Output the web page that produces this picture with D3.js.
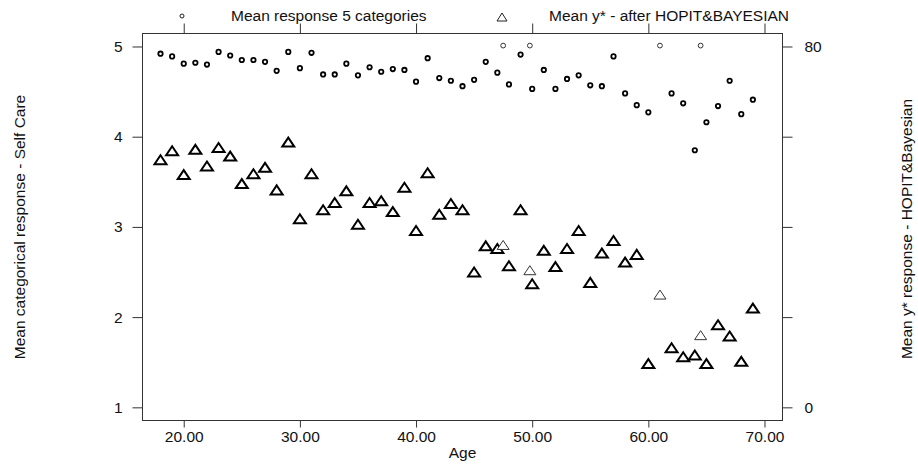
<!DOCTYPE html>
<html><head><meta charset="utf-8">
<script src="https://cdn.jsdelivr.net/npm/d3@7"></script>
<style>
html,body{margin:0;padding:0;background:#fff;}
svg{display:block;font-family:"Liberation Sans",Arial,sans-serif;}
</style></head>
<body>
<svg id="c" width="918" height="466"></svg>
<script>
// Ages (x categories)
const ages = [18,19,20,21,22,23,24,25,26,27,28,29,30,31,32,33,34,35,36,37,38,39,40,41,42,43,44,45,46,47,48,49,50,51,52,53,54,55,56,57,58,59,60,62,63,64,65,66,67,68,69];
// Mean response 5 categories (left axis)
const meanResponse = [4.92,4.89,4.81,4.82,4.80,4.94,4.90,4.85,4.85,4.83,4.73,4.94,4.76,4.93,4.69,4.69,4.81,4.68,4.77,4.72,4.75,4.74,4.61,4.87,4.65,4.62,4.56,4.63,4.83,4.71,4.58,4.91,4.53,4.74,4.53,4.64,4.68,4.57,4.56,4.89,4.48,4.35,4.27,4.48,4.37,3.85,4.16,4.34,4.62,4.25,4.41];
// Mean y* after HOPIT & Bayesian (right axis)
const meanYstar = [54.9,56.9,51.6,57.2,53.5,57.6,55.7,49.6,51.8,53.2,48.2,58.8,41.8,51.8,43.8,45.4,48.0,40.6,45.4,45.8,43.4,48.8,39.2,52.0,42.8,45.2,43.8,30.0,35.8,35.2,31.4,43.8,27.4,34.8,31.2,35.2,39.2,27.7,34.2,37.0,32.2,33.9,9.7,13.2,11.2,11.6,9.7,18.3,15.8,10.2,22.0];
// Secondary (lighter) points
const agesLight = [47.5,49.8,61,64.5];
const meanResponseLight = [5.01,5.01,5.01,5.01];
const meanYstarLight = [36.0,30.4,25.0,16.0];
// Tick labels
const xTicks = [20,30,40,50,60,70];
const yTicks = [1,2,3,4,5];
const y2Ticks = [0,20,40,60,80];
const y2Labeled = [0,80];
const legendLabels = ["Mean response 5 categories","Mean y* - after HOPIT&BAYESIAN"];

const svg = d3.select("#c");
const L=142.5,R=782.5,T=33.5,B=420.5;
const x = d3.scaleLinear().domain([16.45,71.55]).range([L,R]);
const y = d3.scaleLinear().domain([0.854,5.144]).range([B,T]);
const y2 = d3.scaleLinear().domain([-2.92,82.88]).range([B,T]);
const axisCol = "#333";
const fs = "15.5px";

function styleAxis(g){
  g.select(".domain").remove();
  g.selectAll("line").attr("stroke",axisCol);
  g.selectAll("text").attr("fill","#111").style("font-size",fs).attr("font-family",null);
}
svg.append("g").attr("transform",`translate(${L},0)`)
  .call(d3.axisLeft(y).tickValues(yTicks).tickSize(10).tickPadding(10).tickFormat(d3.format("d"))).call(styleAxis);
svg.append("g").attr("transform",`translate(${R},0)`)
  .call(d3.axisRight(y2).tickValues(y2Ticks).tickSize(10).tickPadding(12).tickFormat(d=>y2Labeled.includes(d)?d3.format("d")(d):"")).call(styleAxis);
svg.append("g").attr("transform",`translate(0,${B})`)
  .call(d3.axisBottom(x).tickValues(xTicks).tickSize(7).tickPadding(3).tickFormat(d3.format(".2f"))).call(styleAxis);
svg.append("g").attr("transform",`translate(0,${T})`)
  .call(d3.axisTop(x).tickValues(xTicks).tickSize(10).tickFormat("")).call(styleAxis);

svg.append("rect").attr("x",L).attr("y",T).attr("width",R-L).attr("height",B-T)
  .attr("fill","none").attr("stroke",axisCol).attr("stroke-width",1);

// titles
svg.append("text").attr("x",(L+R)/2).attr("y",458).attr("text-anchor","middle").style("font-size",fs).attr("fill","#111").text("Age");
svg.append("text").attr("transform","translate(25,227) rotate(-90)").attr("text-anchor","middle").style("font-size",fs).attr("fill","#111").text("Mean categorical response - Self Care");
svg.append("text").attr("transform","translate(912,229) rotate(-90)").attr("text-anchor","middle").style("font-size",fs).attr("fill","#111").text("Mean y* response - HOPIT&Bayesian");

const tri = "M0,-4.5L6,4.5L-6,4.5Z";

// markers
const circ = ages.map((a,i)=>({a,v:meanResponse[i]}));
svg.append("g").selectAll("circle").data(circ).join("circle")
  .attr("cx",d=>x(d.a)).attr("cy",d=>y(d.v)).attr("r",2.2)
  .attr("fill","#fff").attr("stroke","#000").attr("stroke-width",1.8);
const circL = agesLight.map((a,i)=>({a,v:meanResponseLight[i]}));
svg.append("g").selectAll("circle").data(circL).join("circle")
  .attr("cx",d=>x(d.a)).attr("cy",d=>y(d.v)).attr("r",2.4)
  .attr("fill","#fff").attr("stroke","#333").attr("stroke-width",1);

const trs = ages.map((a,i)=>({a,v:meanYstar[i]}));
svg.append("g").selectAll("path").data(trs).join("path")
  .attr("d",tri).attr("transform",d=>`translate(${x(d.a)},${y2(d.v)})`)
  .attr("fill","#fff").attr("stroke","#000").attr("stroke-width",2).attr("stroke-linejoin","miter");
const trsL = agesLight.map((a,i)=>({a,v:meanYstarLight[i]}));
svg.append("g").selectAll("path").data(trsL).join("path")
  .attr("d",tri).attr("transform",d=>`translate(${x(d.a)},${y2(d.v)})`)
  .attr("fill","#fff").attr("stroke","#333").attr("stroke-width",1);

// legend
const lg = svg.append("g");
lg.append("circle").attr("cx",182).attr("cy",16).attr("r",2).attr("fill","#fff").attr("stroke","#222").attr("stroke-width",1);
lg.append("text").attr("x",231).attr("y",21).style("font-size",fs).attr("fill","#111").text(legendLabels[0]);
lg.append("path").attr("d","M0,-4L5,4L-5,4Z").attr("transform","translate(502,17)").attr("fill","#fff").attr("stroke","#222").attr("stroke-width",1);
lg.append("text").attr("x",549).attr("y",21).style("font-size",fs).attr("fill","#111").text(legendLabels[1]);
</script>
</body></html>
